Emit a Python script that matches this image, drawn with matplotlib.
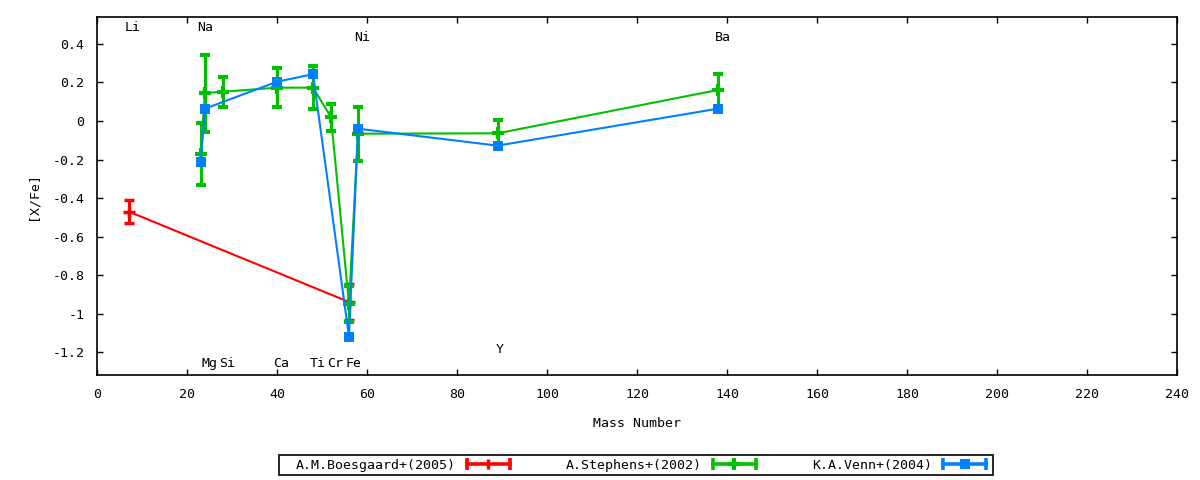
import numpy as np
import matplotlib
matplotlib.use('Agg')
import matplotlib.pyplot as plt
from matplotlib.ticker import MultipleLocator, FuncFormatter
from matplotlib.legend_handler import HandlerBase
from matplotlib.lines import Line2D
from matplotlib.patches import Rectangle

plt.rcParams['font.family'] = ['DejaVu Sans Mono']
plt.rcParams['font.size'] = 9.5

# Boesgaard+(2005)
boes_mass = [7, 56]
boes_xfe = [-0.47, -0.94]
boes_err = [0.06, 0.095]

# Stephens+(2002)
steph_mass = [23, 24, 28, 40, 48, 52, 56, 58, 89, 138]
steph_xfe = [-0.17, 0.145, 0.152, 0.173, 0.173, 0.02, -0.95, -0.066, -0.064, 0.161]
steph_err = [0.16, 0.20, 0.078, 0.10, 0.11, 0.07, 0.095, 0.14, 0.07, 0.083]

# Venn+(2004)
venn_mass = [23, 24, 40, 48, 56, 58, 89, 138]
venn_xfe = [-0.215, 0.064, 0.204, 0.243, -1.12, -0.04, -0.128, 0.064]
venn_err = [0, 0, 0, 0, 0, 0, 0, 0]

# element labels (name, x, y)
elem_names = ['Li', 'Na', 'Ni', 'Ba', 'Mg', 'Si', 'Ca', 'Ti', 'Cr', 'Fe', 'Y']
elem_x = [8.0, 24.0, 59.0, 139.1, 25.1, 28.9, 41.0, 49.1, 53.0, 57.0, 89.6]
elem_y = [0.488, 0.488, 0.436, 0.436, -1.257, -1.257, -1.257, -1.257, -1.257, -1.257, -1.184]


class ErrKey(HandlerBase):
    # gnuplot style key sample: horizontal bar with end caps and point in the middle
    def __init__(self, color, marker, ms, mew):
        super().__init__()
        self.color, self.marker, self.ms, self.mew = color, marker, ms, mew

    def create_artists(self, legend, orig_handle, xdescent, ydescent, width, height, fontsize, trans):
        y = height / 2 - ydescent
        x0, x1 = -xdescent, width - xdescent
        bar = Line2D([x0, x1], [y, y], color=self.color, lw=2.6)
        caps = Line2D([x0, x1], [y, y], color=self.color, ls='', marker='|', ms=8, mew=2.6)
        pt = Line2D([(x0 + x1) / 2], [y], color=self.color, ls='', marker=self.marker,
                    ms=self.ms, mew=self.mew)
        for a in (bar, caps, pt):
            a.set_transform(trans)
        return [bar, caps, pt]


fig = plt.figure(figsize=(12, 4.8), dpi=100)
ax = fig.add_axes([97/1200, 105/480, 1080/1200, 358/480])

common = dict(elinewidth=2.2, capsize=3.5, capthick=2.2, linewidth=1.5)
h1 = ax.errorbar(boes_mass, boes_xfe, yerr=boes_err, color='#ff0000', marker='+',
                 markersize=8, markeredgewidth=2.5, label='A.M.Boesgaard+(2005)', **common)
h2 = ax.errorbar(steph_mass, steph_xfe, yerr=steph_err, color='#00c000', marker='+',
                 markersize=8, markeredgewidth=3, label='A.Stephens+(2002)', **common)
h3 = ax.errorbar(venn_mass, venn_xfe, yerr=venn_err, color='#0080ff', marker='s',
                 markersize=7, markeredgewidth=0, label='K.A.Venn+(2004)', **common)

for name, x, y in zip(elem_names, elem_x, elem_y):
    ax.text(x, y, name, ha='center', va='center', fontsize=9.5)

ax.set_xlim(0, 240)
ax.set_ylim(-1.319, 0.54)
ax.xaxis.set_major_locator(MultipleLocator(20))
ax.yaxis.set_major_locator(MultipleLocator(0.2))
ax.yaxis.set_major_formatter(FuncFormatter(lambda v, p: '%g' % round(v, 2) if abs(v) > 1e-9 else '0'))
ax.tick_params(direction='in', length=4, width=1, top=True, right=True, labelsize=9.5, pad=9)
for s in ax.spines.values():
    s.set_linewidth(1.2)

ax.set_xlabel('Mass Number', fontsize=9.5, labelpad=12)
ax.set_ylabel('[X/Fe]', fontsize=9.5, labelpad=9)

hmap = {h1: ErrKey('#ff0000', '|', 7, 2.5),
        h2: ErrKey('#00c000', '+', 8, 3),
        h3: ErrKey('#0080ff', 's', 7, 0)}
leg = fig.legend(handles=[h1, h2, h3], handler_map=hmap, loc='center',
                 bbox_to_anchor=(641/1200, 1 - 465/480), ncol=3,
                 markerfirst=False, handlelength=3.26, handletextpad=0.83,
                 columnspacing=4.25, frameon=False, fontsize=9.5, borderpad=0)
fig.patches.append(Rectangle((279/1200, 5/480), 714/1200, 20/480, transform=fig.transFigure,
                             fill=False, edgecolor='black', linewidth=1.2))

fig.savefig('out.png', dpi=100)
